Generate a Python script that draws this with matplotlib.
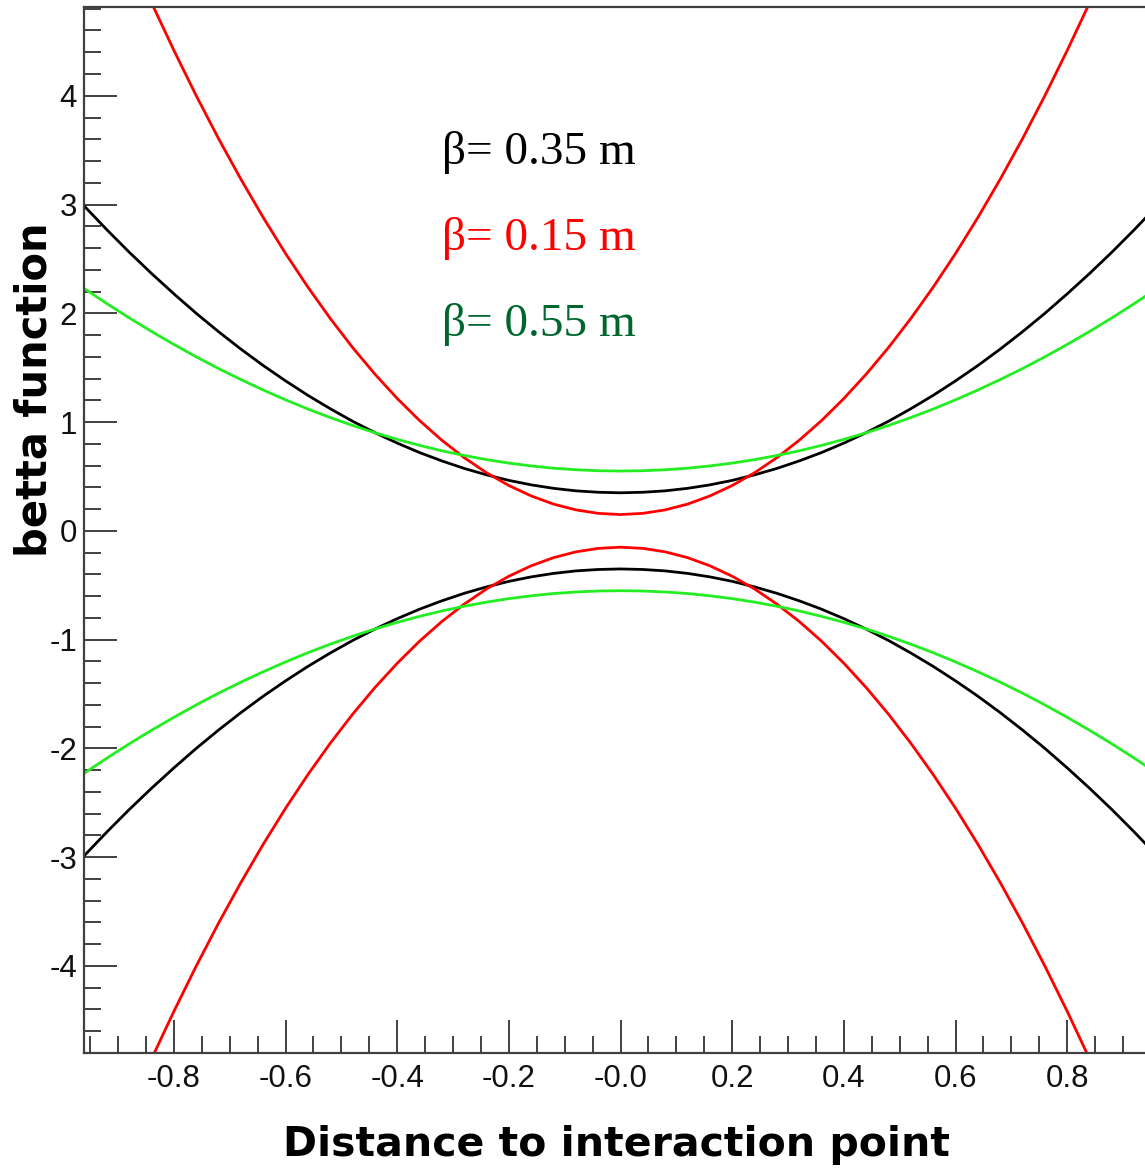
import matplotlib
matplotlib.use("Agg")
import matplotlib.pyplot as plt
from matplotlib.ticker import MultipleLocator, FixedLocator

# ---- data (upper branch; lower branch is its mirror) ----
s = [-0.96, -0.92, -0.88, -0.84, -0.80, -0.76, -0.72, -0.68, -0.64, -0.60,
     -0.56, -0.52, -0.48, -0.44, -0.40, -0.36, -0.32, -0.28, -0.24, -0.20,
     -0.16, -0.12, -0.08, -0.04, 0.00, 0.04, 0.08, 0.12, 0.16, 0.20,
     0.24, 0.28, 0.32, 0.36, 0.40, 0.44, 0.48, 0.52, 0.56, 0.60,
     0.64, 0.68, 0.72, 0.76, 0.80, 0.84, 0.88, 0.92, 0.96]

half_black = [2.983, 2.768, 2.562, 2.366, 2.179, 2.000, 1.831, 1.671, 1.520, 1.379,
              1.246, 1.123, 1.008, 0.903, 0.807, 0.720, 0.643, 0.574, 0.515, 0.464,
              0.423, 0.391, 0.368, 0.355, 0.350]
half_red = [6.294, 5.793, 5.313, 4.854, 4.417, 4.001, 3.606, 3.233, 2.881, 2.550,
            2.241, 1.953, 1.686, 1.441, 1.217, 1.014, 0.833, 0.673, 0.534, 0.417,
            0.321, 0.246, 0.193, 0.161, 0.150]
half_green = [2.226, 2.089, 1.958, 1.833, 1.714, 1.600, 1.492, 1.391, 1.295, 1.205,
              1.120, 1.042, 0.969, 0.902, 0.841, 0.786, 0.736, 0.693, 0.655, 0.623,
              0.597, 0.576, 0.562, 0.553, 0.550]

beta_black = half_black + half_black[-2::-1]
beta_red = half_red + half_red[-2::-1]
beta_green = half_green + half_green[-2::-1]

labels = ["\u03b2= 0.35 m", "\u03b2= 0.15 m", "\u03b2= 0.55 m"]
label_colors = ["black", "#ff0000", "#00662e"]

x_ticks = [-0.8, -0.6, -0.4, -0.2, 0.0, 0.2, 0.4, 0.6, 0.8]
x_ticklabels = ["-0.8", "-0.6", "-0.4", "-0.2", "-0.0", "0.2", "0.4", "0.6", "0.8"]
y_ticks = [-4, -3, -2, -1, 0, 1, 2, 3, 4]
y_ticklabels = ["-4", "-3", "-2", "-1", "0", "1", "2", "3", "4"]

# ---- figure ----
W, H = 1145, 1174
fig = plt.figure(figsize=(W / 100, H / 100), dpi=100)
left, right, top, bottom = 84, 1145, 7, 1053
ax = fig.add_axes([left / W, 1 - bottom / H, (right - left) / W, (bottom - top) / H])

line_colors = ["black", "#ff0000", "#22ee22"]
for yv, c in zip([beta_black, beta_red, beta_green], line_colors):
    ax.plot(s, yv, color=c, lw=2.0, solid_joinstyle="round")
    ax.plot(s, [-v for v in yv], color=c, lw=2.0, solid_joinstyle="round")

ax.set_xlim(-0.961, 0.9393)
ax.set_ylim(-4.80, 4.816)

ax.xaxis.set_major_locator(FixedLocator(x_ticks))
ax.set_xticklabels(x_ticklabels)
ax.xaxis.set_minor_locator(MultipleLocator(0.05))
ax.yaxis.set_major_locator(FixedLocator(y_ticks))
ax.set_yticklabels(y_ticklabels)
ax.yaxis.set_minor_locator(MultipleLocator(0.2))

spine_c = "#404040"
for sp in ["left", "bottom", "top"]:
    ax.spines[sp].set_color(spine_c)
    ax.spines[sp].set_linewidth(1.6)
ax.spines["right"].set_visible(False)

ax.tick_params(axis="both", which="major", direction="in", length=24, width=1.4,
               color=spine_c, labelsize=22.5, top=False, right=False)
ax.tick_params(axis="x", which="major", pad=8)
ax.tick_params(axis="y", which="major", pad=5)
ax.tick_params(axis="both", which="minor", direction="in", length=12, width=1.4,
               color=spine_c, top=False, right=False)
for lab in ax.get_xticklabels() + ax.get_yticklabels():
    lab.set_family("Liberation Sans")
    lab.set_color("#111111")

# annotations
ys = [152, 238, 324]
for t, c, yp in zip(labels, label_colors, ys):
    fig.text(442 / W, 1 - yp / H, t, color=c, fontsize=34, family="Liberation Serif",
             ha="left", va="center")

fig.text(617 / W, 1 - 1145 / H, "Distance to interaction point", fontsize=29.5,
         fontweight="bold", family="DejaVu Sans", ha="center", va="center")
fig.text(35 / W, 1 - 390 / H, "betta function", fontsize=30, fontweight="bold",
         family="DejaVu Sans", ha="center", va="center", rotation=90)

fig.savefig("out.png", dpi=100, facecolor="white")
